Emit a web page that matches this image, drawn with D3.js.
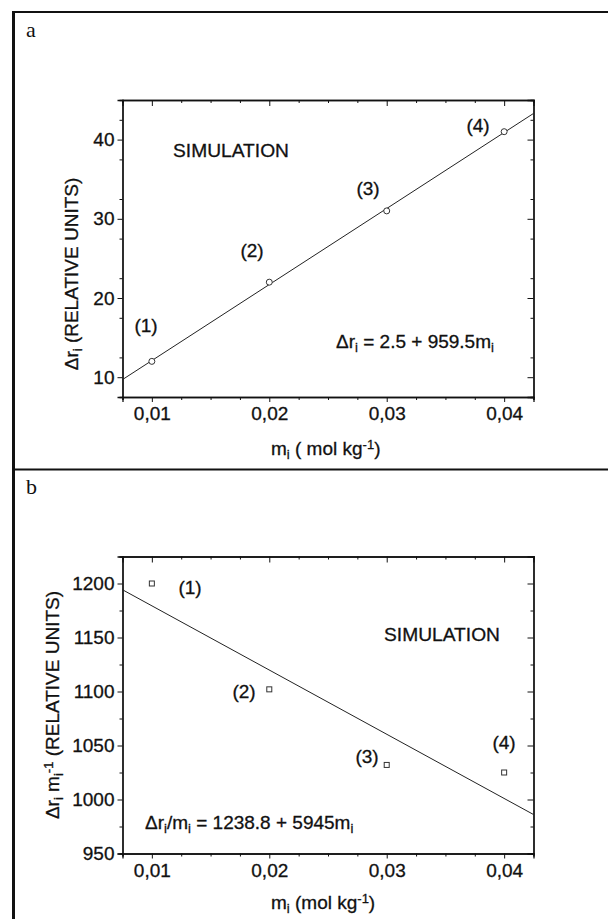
<!DOCTYPE html>
<html>
<head>
<meta charset="utf-8">
<script src="https://cdn.jsdelivr.net/npm/d3@7"></script>
<style>
body { margin: 0; background: #fff; }
text { fill: #111; }
</style>
</head>
<body>
<script>
// values
var molality = [0.01, 0.02, 0.03, 0.04];
var deltaR = [12, 22, 31, 41];
var deltaRperM = [1200, 1102, 1032, 1025];
var pointLabels = ["(1)", "(2)", "(3)", "(4)"];

// fitted lines, ends of the drawn segment
var fitX = [0.0075, 0.0425];
var fitA = [9.7, 43.3];
var fitB = [1194.2, 986.1];

var xTicks = [0.01, 0.02, 0.03, 0.04];
var xTickLabels = ["0,01", "0,02", "0,03", "0,04"];
var yTicksA = [10, 20, 30, 40];
var yTicksB = [950, 1000, 1050, 1100, 1150, 1200];

var width = 608,
	height = 919;
var sans = "Liberation Sans, Arial, sans-serif";
var fs = 19;

var svg = d3.select("body").append("svg")
	.attr("width", width)
	.attr("height", height);

// page frame
svg.append("line").attr("x1", 13.5).attr("x2", 13.5).attr("y1", 11).attr("y2", height)
	.attr("stroke", "#111").attr("stroke-width", 3);
svg.append("line").attr("x1", 12).attr("x2", width).attr("y1", 12).attr("y2", 12)
	.attr("stroke", "#111").attr("stroke-width", 2);
svg.append("line").attr("x1", 12).attr("x2", width).attr("y1", 469.5).attr("y2", 469.5)
	.attr("stroke", "#111").attr("stroke-width", 2);

function txt(sel){
	return sel.attr("font-family", sans).attr("font-size", fs)
		.attr("stroke", "#111").attr("stroke-width", 0.3);
}

function drawPanel(opt){
	var g = svg.append("g");
	var left = 122.5, right = 533.5, top = opt.top, bottom = opt.top + 297;

	var x = d3.scaleLinear().domain([0.0075, 0.0425]).range([left, right]);
	var y = d3.scaleLinear().domain(opt.yDomain).range([bottom, top]);

	var xMinor = d3.range(0.0075, 0.0426, 0.0025).filter(function(v){
		return xTicks.every(function(t){ return Math.abs(t - v) > 1e-6; });
	});
	var yMinor = d3.range(opt.yDomain[0], opt.yDomain[1] + 0.001, opt.minorStep).filter(function(v){
		return opt.yTicks.indexOf(v) < 0;
	});

	// bottom axis, ticks out
	g.append("g")
		.attr("transform", "translate(0," + bottom + ")")
		.call(d3.axisBottom(x).tickValues(xTicks).tickSize(5).tickPadding(5)
			.tickFormat(function(d, i){ return xTickLabels[i]; }));
	g.append("g")
		.attr("transform", "translate(0," + bottom + ")")
		.call(d3.axisBottom(x).tickValues(xMinor).tickSize(3).tickFormat(""));
	// left axis, ticks out
	g.append("g")
		.attr("transform", "translate(" + left + ",0)")
		.call(d3.axisLeft(y).tickValues(opt.yTicks).tickSize(5).tickPadding(3)
			.tickFormat(d3.format("d")));
	g.append("g")
		.attr("transform", "translate(" + left + ",0)")
		.call(d3.axisLeft(y).tickValues(yMinor).tickSize(3).tickFormat(""));
	// top and right, ticks in
	g.append("g")
		.attr("transform", "translate(0," + top + ")")
		.call(d3.axisTop(x).tickValues(xTicks).tickSize(-6).tickFormat(""));
	g.append("g")
		.attr("transform", "translate(0," + top + ")")
		.call(d3.axisTop(x).tickValues(xMinor).tickSize(-3).tickFormat(""));
	g.append("g")
		.attr("transform", "translate(" + right + ",0)")
		.call(d3.axisRight(y).tickValues(opt.yTicks).tickSize(-6).tickFormat(""));
	g.append("g")
		.attr("transform", "translate(" + right + ",0)")
		.call(d3.axisRight(y).tickValues(yMinor).tickSize(-3).tickFormat(""));

	g.selectAll(".domain").attr("stroke", "#111").attr("stroke-width", 1.3);
	g.selectAll(".tick line").attr("stroke", "#111").attr("stroke-width", 1);
	txt(g.selectAll(".tick text")).attr("fill", "#111");

	// fit line
	var line = d3.line()
		.x(function(d){ return x(d[0]); })
		.y(function(d){ return y(d[1]); });
	g.append("path")
		.datum(d3.zip(fitX, opt.fit))
		.attr("d", line)
		.attr("fill", "none")
		.attr("stroke", "#222")
		.attr("stroke-width", 1);

	// points
	var pts = d3.zip(molality, opt.values);
	if (opt.marker == "circle"){
		g.selectAll(".pt").data(pts).enter().append("circle")
			.attr("cx", function(d){ return x(d[0]); })
			.attr("cy", function(d){ return y(d[1]); })
			.attr("r", 3)
			.attr("fill", "#fff")
			.attr("stroke", "#333")
			.attr("stroke-width", 1);
	}
	else{
		g.selectAll(".pt").data(pts).enter().append("rect")
			.attr("x", function(d){ return x(d[0]) - 2.5; })
			.attr("y", function(d){ return y(d[1]) - 2.5; })
			.attr("width", 5)
			.attr("height", 5)
			.attr("fill", "#fff")
			.attr("stroke", "#333")
			.attr("stroke-width", 1);
	}

	// point labels
	txt(g.selectAll(".plab").data(pointLabels).enter().append("text"))
		.attr("x", function(d, i){ return opt.labelPos[i][0]; })
		.attr("y", function(d, i){ return opt.labelPos[i][1]; })
		.attr("text-anchor", "middle")
		.attr("dy", "0.35em")
		.text(function(d){ return d; });

	txt(g.append("text"))
		.attr("x", opt.simPos[0]).attr("y", opt.simPos[1])
		.attr("dy", "0.35em")
		.attr("textLength", 116)
		.attr("lengthAdjust", "spacingAndGlyphs")
		.text("SIMULATION");

	// panel letter
	g.append("text")
		.attr("x", 26).attr("y", opt.top - 63)
		.attr("font-family", "Liberation Serif, Times New Roman, serif")
		.attr("font-size", 22)
		.text(opt.letter);

	return {g: g, x: x, y: y};
}

function sub(t, s){
	t.append("tspan").attr("baseline-shift", "-30%").attr("font-size", 13).text(s);
}
function sup(t, s){
	t.append("tspan").attr("baseline-shift", "45%").attr("font-size", 13).text(s);
}

// ---- panel a
var pa = drawPanel({
	top: 100, yDomain: [7.5, 45], yTicks: yTicksA, minorStep: 5, values: deltaR, fit: fitA,
	marker: "circle", letter: "a",
	labelPos: [[146, 325], [252, 250], [368, 188], [478, 125]],
	simPos: [173, 150]
});

var eqA = txt(pa.g.append("text")).attr("x", 336).attr("y", 348);
eqA.append("tspan").text("\u0394r");
sub(eqA, "i");
eqA.append("tspan").text(" = 2.5 + 959.5m");
sub(eqA, "i");

var xlA = txt(pa.g.append("text")).attr("x", 271).attr("y", 455);
xlA.append("tspan").text("m");
sub(xlA, "i");
xlA.append("tspan").text(" ( mol kg");
sup(xlA, "-1");
xlA.append("tspan").text(")");

var ylA = txt(pa.g.append("text"))
	.attr("transform", "translate(78,274) rotate(-90)")
	.attr("text-anchor", "middle");
ylA.append("tspan").text("\u0394r");
sub(ylA, "i");
ylA.append("tspan").text(" (RELATIVE UNITS)");

// ---- panel b
var pb = drawPanel({
	top: 556.5, yDomain: [950, 1225], yTicks: yTicksB, minorStep: 25, values: deltaRperM, fit: fitB,
	marker: "square", letter: "b",
	labelPos: [[190, 587], [244, 691], [367, 756], [504, 742]],
	simPos: [384, 634]
});

var eqB = txt(pb.g.append("text")).attr("x", 145).attr("y", 829);
eqB.append("tspan").text("\u0394r");
sub(eqB, "i");
eqB.append("tspan").text("/m");
sub(eqB, "i");
eqB.append("tspan").text(" = 1238.8 + 5945m");
sub(eqB, "i");

var xlB = txt(pb.g.append("text")).attr("x", 271).attr("y", 909);
xlB.append("tspan").text("m");
sub(xlB, "i");
xlB.append("tspan").text(" (mol kg");
sup(xlB, "-1");
xlB.append("tspan").text(")");

var ylB = txt(pb.g.append("text"))
	.attr("transform", "translate(59,705) rotate(-90)")
	.attr("text-anchor", "middle");
ylB.append("tspan").text("\u0394r");
sub(ylB, "i");
ylB.append("tspan").text(" m");
sub(ylB, "i");
sup(ylB, "-1");
ylB.append("tspan").text(" (RELATIVE UNITS)");
</script>
</body>
</html>
